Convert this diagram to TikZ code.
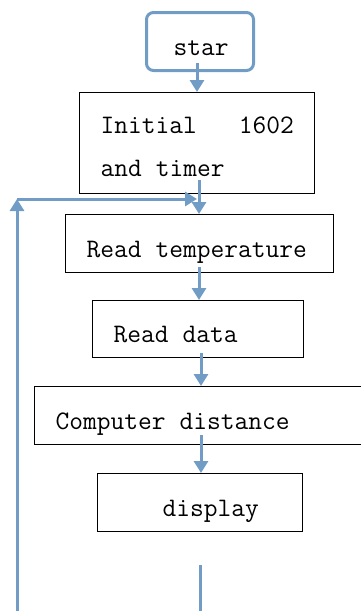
\documentclass[tikz,border=0pt]{standalone}
\usepackage{fontspec}
\usetikzlibrary{arrows.meta}
\definecolor{flow}{RGB}{112,156,198}
\newcommand\gap{\hspace*{0.525em}}
\tikzset{
  box/.style={draw=black, line width=1.3pt, rectangle, anchor=north west, align=left,
    font=\ttfamily\fontsize{26.7}{43}\selectfont, inner sep=0pt, text height=43pt, text depth=15pt},
  arr/.style={draw=flow, line width=3pt, -{Triangle[length=12pt,width=14pt]}},
  ln/.style={draw=flow, line width=3pt}
}
\begin{document}
\begin{tikzpicture}[x=1pt,y=-1pt]
\useasboundingbox (0,0) rectangle (360,611);
\node[box, draw=flow, line width=3pt, rounded corners=7pt, text width=107pt] (star) at (145,11)
  {\hspace*{27pt}star};
\node[box, text width=235pt, text height=41pt, text depth=60pt] (b1) at (79,92)
  {\hspace*{21pt}Initial\gap\gap\gap 1602\\\hspace*{21pt}and\gap timer};
\node[box, text width=268pt] (b2) at (65,214)
  {\hspace*{21pt}Read\gap temperature};
\node[box, text width=211pt, text height=42pt] (b3) at (92,300)
  {\hspace*{21pt}Read\gap data};
\node[box, text width=332pt] (b4) at (34,386)
  {\hspace*{21pt}Computer\gap distance};
\node[box, text width=205pt] (b5) at (97,473)
  {\hspace*{65pt}display};
\coordinate (s0) at (197,63);
\coordinate (a1) at (199,180);
\coordinate (a2) at (199,267);
\coordinate (a3) at (201,353);
\coordinate (a4) at (201,435);
\coordinate (e0) at (200,565);
\coordinate (e1) at (200,611);
\coordinate (l0) at (17,611);
\coordinate (l1) at (17,199);
\coordinate (h1) at (197,199);
\draw[arr] (s0) -- (b1.north -| s0);
\draw[arr] (a1) -- (b2.north -| a1);
\draw[arr] (a2) -- (b3.north -| a2);
\draw[arr] (a3) -- (b4.north -| a3);
\draw[arr] (a4) -- (b5.north -| a4);
\draw[ln] (e0) -- (e1);
\draw[arr] (l0) -- (l1);
\draw[arr] (l1) -- (h1);
\end{tikzpicture}
\end{document}
